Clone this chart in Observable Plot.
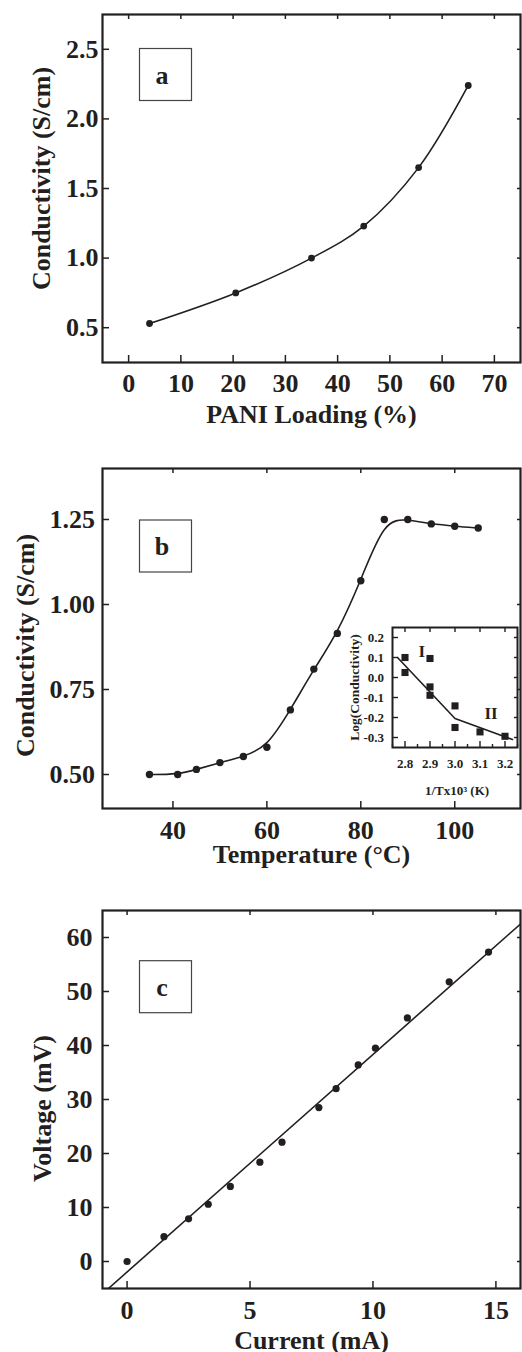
<!DOCTYPE html>
<html><head><meta charset="utf-8">
<script src="https://cdn.jsdelivr.net/npm/d3@7"></script>
<script src="https://cdn.jsdelivr.net/npm/@observablehq/plot@0.6"></script>
<style>
html,body{margin:0;padding:0;background:#fff;}
#root{position:relative;width:522px;height:1352px;overflow:hidden;background:#fff;}
#root svg{position:absolute;left:0;}
</style></head><body><div id="root"></div>
<script>
// ---------- data ----------
// Panel a: conductivity vs PANI loading
const loadingPct = [4, 20.5, 35, 45, 55.5, 65];
const conductivityA = [0.53, 0.75, 1.0, 1.23, 1.65, 2.24];
// Panel b: conductivity vs temperature
const temperatureC = [35, 41, 45, 50, 55, 60, 65, 70, 75, 80, 85, 90, 95, 100, 105];
const conductivityB = [0.50, 0.50, 0.515, 0.535, 0.553, 0.58, 0.69, 0.81, 0.915, 1.07, 1.25, 1.25, 1.237, 1.23, 1.225];
// Inset: log(conductivity) vs 1/T x 10^3
const invT = [2.8, 2.8, 2.9, 2.9, 2.9, 3.0, 3.0, 3.1, 3.2];
const logCond = [0.10, 0.025, 0.095, -0.047, -0.089, -0.142, -0.25, -0.272, -0.294];
const invTFit = [2.77, 3.0, 3.23];
const logCondFit = [0.10, -0.205, -0.31];
const regionLabels = ["I", "II"];
const regionX = [2.867, 3.144];
const regionY = [0.128, -0.18];
// Panel c: voltage vs current
const currentMA = [0, 1.5, 2.5, 3.3, 4.2, 5.4, 6.3, 7.8, 8.5, 9.4, 10.1, 11.4, 13.1, 14.7];
const voltageMV = [0, 4.6, 7.9, 10.6, 13.9, 18.4, 22.1, 28.5, 32.0, 36.4, 39.5, 45.1, 51.8, 57.3];
const currentFit = [-0.76, 16];
const voltageFit = [-5, 62.5];
// ticks
const ticksAX = [0, 10, 20, 30, 40, 50, 60, 70];
const ticksAY = [0.5, 1.0, 1.5, 2.0, 2.5];
const ticksBX = [40, 60, 80, 100];
const ticksBY = [0.50, 0.75, 1.00, 1.25];
const ticksIX = [2.8, 2.9, 3.0, 3.1, 3.2];
const ticksIXminor = [2.75, 2.85, 2.95, 3.05, 3.15, 3.25];
const ticksIY = [0.2, 0.1, 0, -0.1, -0.2, -0.3];
const ticksCX = [0, 5, 10, 15];
const ticksCY = [0, 10, 20, 30, 40, 50, 60];

const INK = "#231f20";
const FONT = "'Liberation Serif', 'Times New Roman', Times, serif";

const toRows = (xs, ys) => xs.map((x, i) => ({x, y: ys[i]}));

function labelBox(letter, offX, offY) {
  return (index, scales, values, dims) => {
    const g = d3.create("svg:g");
    g.append("rect")
      .attr("x", dims.marginLeft + offX).attr("y", dims.marginTop + offY)
      .attr("width", 52).attr("height", 52)
      .attr("fill", "none").attr("stroke", "#444").attr("stroke-width", 1.2);
    g.append("text")
      .attr("x", dims.marginLeft + offX + 22.5).attr("y", dims.marginTop + offY + 35)
      .attr("text-anchor", "middle").attr("font-size", 26).attr("font-weight", "bold")
      .attr("font-family", FONT).attr("fill", INK).text(letter);
    return g.node();
  };
}

function panel(o) {
  const svg = Plot.plot({
    width: 522, height: o.height,
    marginTop: o.marginTop, marginBottom: o.marginBottom, marginLeft: 102, marginRight: 2,
    style: {fontFamily: FONT, fontWeight: "bold", fontSize: "26px", color: INK, background: "transparent"},
    x: {domain: o.xDomain},
    y: {domain: o.yDomain},
    marks: [
      ...o.marks,
      Plot.axisX({ticks: o.xTicks, anchor: "bottom", tickSize: -7, tickPadding: o.xTickPad, tickFormat: o.xFormat, label: null, strokeWidth: 1.5, fontSize: 26, fontWeight: "bold"}),
      Plot.axisX({ticks: o.xTicks, anchor: "top", tickSize: -4, tickFormat: () => "", label: null, strokeWidth: 1.5}),
      Plot.axisY({ticks: o.yTicks, anchor: "left", tickSize: -7, tickPadding: o.yTickPad, tickFormat: o.yFormat, label: null, strokeWidth: 1.5, fontSize: 26, fontWeight: "bold"}),
      Plot.axisY({ticks: o.yTicks, anchor: "right", tickSize: -4, tickFormat: () => "", label: null, strokeWidth: 1.5}),
      Plot.frame({stroke: INK, strokeWidth: 2.2}),
      Plot.text([o.xLabel], {frameAnchor: "bottom", dy: o.xLabelDy, text: d => d, textAnchor: "middle", lineAnchor: "middle", fontSize: 26, fontWeight: "bold", fill: INK}),
      Plot.text([o.yLabel], {frameAnchor: "left", rotate: -90, dx: o.yLabelDx, dy: o.yLabelDy, text: d => d, textAnchor: "middle", lineAnchor: "middle", fontSize: 26, fontWeight: "bold", fill: INK}),
      labelBox(o.letter, 37.5, o.boxDy)
    ]
  });
  svg.style.top = o.top + "px";
  return svg;
}

const root = document.getElementById("root");

// Panel a
root.appendChild(panel({
  top: 0, height: 440, marginTop: 14, marginBottom: 78,
  xDomain: [-5, 75], yDomain: [0.25, 2.75],
  xTicks: ticksAX, yTicks: ticksAY, xFormat: d3.format("d"), yFormat: d3.format(".1f"),
  xTickPad: 18, yTickPad: 11,
  xLabel: "PANI Loading (%)", yLabel: "Conductivity (S/cm)",
  xLabelDy: 52, yLabelDx: -61, yLabelDy: -10,
  letter: "a", boxDy: 34.5,
  marks: [
    Plot.line(toRows(loadingPct, conductivityA), {x: "x", y: "y", curve: "catmull-rom", stroke: INK, strokeWidth: 1.6}),
    Plot.dot(toRows(loadingPct, conductivityA), {x: "x", y: "y", r: 3.4, fill: INK})
  ]
}));

// Panel b
root.appendChild(panel({
  top: 440, height: 440, marginTop: 28, marginBottom: 72,
  xDomain: [25, 114], yDomain: [0.40, 1.40],
  xTicks: ticksBX, yTicks: ticksBY, xFormat: d3.format("d"), yFormat: d3.format(".2f"),
  xTickPad: 19, yTickPad: 14.5,
  xLabel: "Temperature (°C)", yLabel: "Conductivity (S/cm)",
  xLabelDy: 46, yLabelDx: -77, yLabelDy: 7,
  letter: "b", boxDy: 52,
  marks: [
    Plot.line(toRows(temperatureC, conductivityB), {x: "x", y: "y", curve: "basis", stroke: INK, strokeWidth: 1.6}),
    Plot.dot(toRows(temperatureC, conductivityB), {x: "x", y: "y", r: 3.7, fill: INK})
  ]
}));

// Inset in panel b
const inset = Plot.plot({
  width: 182, height: 200,
  marginTop: 27, marginBottom: 53, marginLeft: 52, marginRight: 5,
  style: {fontFamily: FONT, fontWeight: "bold", fontSize: "13px", color: INK, background: "transparent"},
  x: {domain: [2.75, 3.25]},
  y: {domain: [-0.35, 0.25]},
  marks: [
    Plot.frame({fill: "white"}),
    Plot.line(toRows(invTFit, logCondFit), {x: "x", y: "y", stroke: INK, strokeWidth: 1.6}),
    Plot.dot(toRows(invT, logCond), {x: "x", y: "y", symbol: "square", r: 4, fill: INK}),
    Plot.text(regionLabels, {x: (d, i) => regionX[i], y: (d, i) => regionY[i], text: d => d, fontSize: 17, fontWeight: "bold", fill: INK}),
    Plot.axisX({ticks: ticksIX, anchor: "bottom", tickSize: -6, tickPadding: 17.5, tickFormat: d3.format(".1f"), label: null, strokeWidth: 1.4, fontSize: 13}),
    Plot.axisX({ticks: ticksIXminor, anchor: "bottom", tickSize: -3, tickFormat: () => "", label: null, strokeWidth: 1.4}),
    Plot.axisX({ticks: ticksIX, anchor: "top", tickSize: -4, tickFormat: () => "", label: null, strokeWidth: 1.4}),
    Plot.axisY({ticks: ticksIY, anchor: "left", tickSize: -6, tickPadding: 14.5, tickFormat: d => d.toFixed(1), label: null, strokeWidth: 1.4, fontSize: 13}),
    Plot.axisY({ticks: ticksIY, anchor: "right", tickSize: -4, tickFormat: () => "", label: null, strokeWidth: 1.4}),
    Plot.frame({stroke: INK, strokeWidth: 2}),
    Plot.text(["1/Tx10³ (K)"], {frameAnchor: "bottom", dx: 2, dy: 43, text: d => d, textAnchor: "middle", lineAnchor: "middle", fontSize: 13, fontWeight: "bold", fill: INK}),
    Plot.text(["Log(Conductivity)"], {frameAnchor: "left", rotate: -90, dx: -38, text: d => d, textAnchor: "middle", lineAnchor: "middle", fontSize: 13.5, fontWeight: "bold", fill: INK})
  ]
});
inset.style.top = "600px";
inset.style.left = "340px";
root.appendChild(inset);

// Panel c
root.appendChild(panel({
  top: 880, height: 472, marginTop: 30, marginBottom: 64,
  xDomain: [-1, 16], yDomain: [-5, 65],
  xTicks: ticksCX, yTicks: ticksCY, xFormat: d3.format("d"), yFormat: d3.format("d"),
  xTickPad: 19.5, yTickPad: 17,
  xLabel: "Current (mA)", yLabel: "Voltage (mV)",
  xLabelDy: 52, yLabelDx: -59.5, yLabelDy: 9,
  letter: "c", boxDy: 50.7,
  marks: [
    Plot.line(toRows(currentFit, voltageFit), {x: "x", y: "y", stroke: INK, strokeWidth: 1.6, clip: true}),
    Plot.dot(toRows(currentMA, voltageMV), {x: "x", y: "y", r: 3.6, fill: INK})
  ]
}));
</script></body></html>
